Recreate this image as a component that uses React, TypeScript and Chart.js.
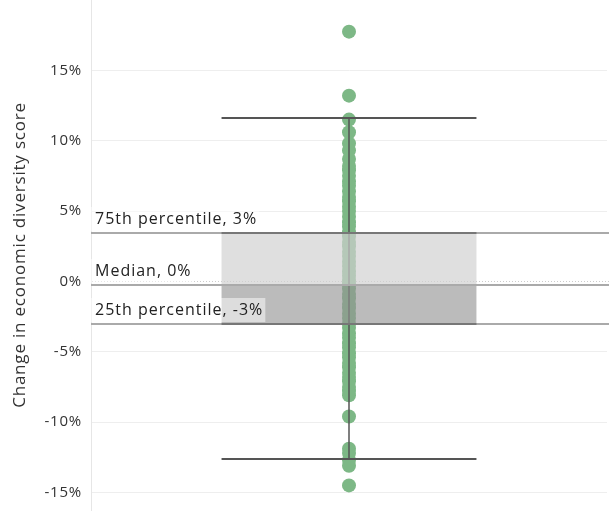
import React, { useEffect, useRef } from "react";
import { Chart, registerables } from "chart.js";

Chart.register(...registerables);

const categories = ["All"];
const pointValues = [
  17.75, 13.2, 11.5, 10.6, 9.8, 9.3, 8.7, 8.2, 7.9, 7.5, 7.1, 6.8, 6.4, 6.0, 5.7, 5.3,
  5.0, 4.6, 4.2, 3.9, 3.5, 3.2, 2.8, 2.5, 2.1, 1.8, 1.4, 1.1, 0.7, 0.4, 0.1, -0.2,
  -0.5, -0.9, -1.2, -1.6, -1.9, -2.3, -2.6, -3.0, -3.3, -3.7, -4.0, -4.4, -4.7, -5.1,
  -5.4, -5.8, -6.1, -6.5, -6.8, -7.1, -7.5, -7.8, -8.1, -9.6, -11.9, -12.2, -12.7,
  -13.1, -14.5,
];
const q1 = -3.06;
const median = -0.28;
const q3 = 3.41;
const whiskerLow = -12.65;
const whiskerHigh = 11.6;
const percentileLabels = ["75th percentile, 3%", "Median, 0%", "25th percentile, -3%"];
const yTicks = [-15, -10, -5, 0, 5, 10, 15];
const yTitle = "Change in economic diversity score";

const FONT = "'Open Sans', Lato, sans-serif";

export default function App() {
  const ref = useRef<HTMLCanvasElement | null>(null);

  useEffect(() => {
    document.body.style.margin = "0";
    const canvas = ref.current;
    if (!canvas) return;

    const boxPlugin = {
      id: "boxOverlay",
      beforeDraw(chart: any) {
        chart.ctx.letterSpacing = "0.8px";
      },
      afterDraw(chart: any) {
        chart.ctx.letterSpacing = "0px";
      },
      afterDatasetDraw(chart: any, args: any) {
        if (args.index !== 0) return;
        const ctx = chart.ctx;
        const y = chart.scales.y;
        const x = chart.scales.x;
        const cx = x.getPixelForValue(0);
        ctx.save();
        ctx.strokeStyle = "#555";
        ctx.lineWidth = 1.5;
        ctx.beginPath();
        ctx.moveTo(cx, y.getPixelForValue(whiskerHigh));
        ctx.lineTo(cx, y.getPixelForValue(whiskerLow));
        ctx.stroke();
        ctx.restore();
      },
      afterDatasetsDraw(chart: any) {
        const ctx = chart.ctx;
        const y = chart.scales.y;
        const x = chart.scales.x;
        const area = chart.chartArea;
        const cx = x.getPixelForValue(0);
        const half = (area.right - area.left) * 0.494 / 2;
        const bl = cx - half;
        const br = cx + half;
        ctx.save();
        ctx.strokeStyle = "#555";
        ctx.lineWidth = 2;
        [whiskerHigh, whiskerLow].forEach((v) => {
          const py = Math.round(y.getPixelForValue(v));
          ctx.beginPath();
          ctx.moveTo(bl, py);
          ctx.lineTo(br, py);
          ctx.stroke();
        });
        [q3, median, q1].forEach((v, i) => {
          const py = Math.round(y.getPixelForValue(v));
          ctx.strokeStyle = "#aaa";
          ctx.lineWidth = 2;
          ctx.beginPath();
          ctx.moveTo(area.left, py);
          ctx.lineTo(area.right + 2, py);
          ctx.stroke();
          if (i !== 1) {
            ctx.strokeStyle = "#777";
            ctx.beginPath();
            ctx.moveTo(bl, py);
            ctx.lineTo(br, py);
            ctx.stroke();
          }
        });
        ctx.font = "16px " + FONT;
        ctx.letterSpacing = "1px";
        ctx.textBaseline = "middle";
        ctx.textAlign = "left";
        [q3, median, q1].forEach((v, i) => {
          const py = Math.round(y.getPixelForValue(v));
          const text = percentileLabels[i];
          const w = ctx.measureText(text).width;
          const top = py - 26;
          ctx.fillStyle = "rgba(255,255,255,0.5)";
          ctx.fillRect(area.left, top, w + 6, 24);
          ctx.fillStyle = "#222";
          ctx.fillText(text, area.left + 4, top + 12);
        });
        ctx.restore();
      },
    };

    const chart = new Chart(canvas, {
      type: "bar",
      data: {
        labels: categories,
        datasets: [
          {
            type: "line",
            data: pointValues.map((v) => ({ x: categories[0], y: v })),
            showLine: false,
            pointRadius: 7,
            pointHoverRadius: 7,
            pointBackgroundColor: "#7db886",
            pointBorderWidth: 0,
            borderColor: "#7db886",
            order: 3,
          } as any,
          {
            type: "bar",
            data: [[median, q3]],
            backgroundColor: "rgba(208,208,208,0.68)",
            barPercentage: 0.494,
            categoryPercentage: 1,
            grouped: false,
            order: 2,
          } as any,
          {
            type: "bar",
            data: [[q1, median]],
            backgroundColor: "rgba(148,148,148,0.63)",
            barPercentage: 0.494,
            categoryPercentage: 1,
            grouped: false,
            order: 1,
          } as any,
        ],
      },
      options: {
        animation: false,
        responsive: false,
        layout: { autoPadding: false, padding: { top: 0, right: 2, bottom: 3, left: 0 } },
        plugins: { legend: { display: false }, tooltip: { enabled: false } },
        scales: {
          x: { type: "category", display: false, offset: true },
          y: {
            min: -16.25,
            max: 20,
            afterBuildTicks: (axis: any) => {
              axis.ticks = yTicks.map((v) => ({ value: v }));
            },
            afterFit: (axis: any) => {
              axis.width = 91;
              axis.paddingTop = 0;
              axis.paddingBottom = 0;
            },
            ticks: {
              callback: (v: any) => v + "%",
              color: "#333",
              font: { family: FONT, size: 15 },
              padding: 9,
            },
            grid: {
              color: "#eee",
              drawTicks: false,
              lineWidth: 1,
            },
            border: { color: "#e6e6e6" },
            title: {
              display: true,
              text: yTitle,
              color: "#333",
              font: { family: FONT, size: 17 },
              padding: { top: 10, bottom: 0 },
            },
          },
        },
      },
      plugins: [
        boxPlugin,
        {
          id: "zeroDotted",
          beforeDatasetsDraw(chart: any) {
            const ctx = chart.ctx;
            const y = chart.scales.y;
            const a = chart.chartArea;
            const py = Math.round(y.getPixelForValue(0)) + 0.5;
            ctx.save();
            ctx.strokeStyle = "#fff";
            ctx.lineWidth = 1;
            ctx.beginPath();
            ctx.moveTo(a.left + 1, py);
            ctx.lineTo(a.right + 2, py);
            ctx.stroke();
            ctx.strokeStyle = "#ccc";
            ctx.setLineDash([1, 2]);
            ctx.beginPath();
            ctx.moveTo(a.left + 1, py);
            ctx.lineTo(a.right + 2, py);
            ctx.stroke();
            ctx.restore();
          },
        },
      ],
    } as any);

    return () => chart.destroy();
  }, []);

  return (
    <div style={{ position: "absolute", left: 0, top: 0, width: 609, height: 513 }}>
      <canvas ref={ref} width={609} height={513} />
    </div>
  );
}
